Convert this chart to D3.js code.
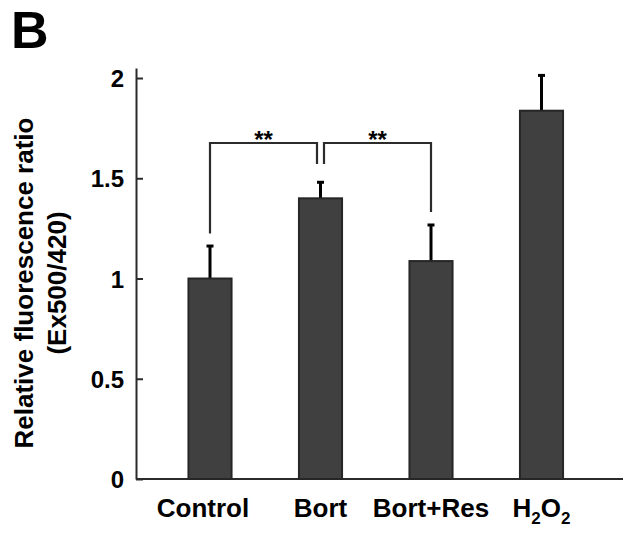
<!DOCTYPE html>
<html>
<head>
<meta charset="utf-8">
<script src="https://cdn.jsdelivr.net/npm/d3@7"></script>
<style>
  body { margin: 0; background: #fff; }
  text { font-family: "Liberation Sans", Arial, sans-serif; font-weight: bold; fill: #000; }
</style>
</head>
<body>
<div id="chart"></div>
<script>
const groups = ["Control", "Bort", "Bort+Res", "H2O2"];
const means = [1.0, 1.40, 1.087, 1.837];
const errors = [0.162, 0.08, 0.18, 0.176];
const yTicks = [0, 0.5, 1, 1.5, 2];
// significance brackets: from group, to group, top level, left foot, right foot
const brackets = [
  { from: "Control", to: "Bort", top: 1.676, footL: 1.225, footR: 1.571, label: "**", side: -1 },
  { from: "Bort", to: "Bort+Res", top: 1.676, footL: 1.571, footR: 1.332, label: "**", side: 1 }
];

const width = 627, height = 534;
const svg = d3.select("#chart").append("svg")
  .attr("width", width)
  .attr("height", height);

const x = d3.scaleBand()
  .domain(groups)
  .range([154.75, 596.75])
  .paddingInner(0.61)
  .paddingOuter(0.305);

const y = d3.scaleLinear()
  .domain([0, 2.05])
  .range([479, 68]);

const axisX = 136;
const cx = d => x(d) + x.bandwidth() / 2;

// panel letter
svg.append("text")
  .attr("x", 11)
  .attr("y", 48)
  .style("font-size", "52px")
  .text("B");

// y axis
svg.append("g")
  .attr("transform", `translate(${axisX},0)`)
  .call(d3.axisLeft(y).tickValues(yTicks).tickFormat(d => String(d))
    .tickSizeInner(-7).tickSizeOuter(0).tickPadding(12))
  .call(g => g.selectAll("path, line").attr("stroke", "#2b2b2b").attr("stroke-width", 2))
  .call(g => g.selectAll("text").style("font-size", "24px").attr("dy", "0.36em"));

// baseline
svg.append("line")
  .attr("x1", axisX).attr("x2", 623)
  .attr("y1", y(0)).attr("y2", y(0))
  .attr("stroke", "#2b2b2b").attr("stroke-width", 2);

// y label
const yl = svg.append("text")
  .attr("transform", `translate(0,${283}) rotate(-90)`)
  .style("text-anchor", "middle")
  .style("font-size", "26px");
yl.append("tspan").attr("x", 0).attr("y", 33).text("Relative fluorescence ratio");
yl.append("tspan").attr("x", 0).attr("y", 66).text("(Ex500/420)");

// error bars
groups.forEach((g, i) => {
  svg.append("line")
    .attr("x1", cx(g)).attr("x2", cx(g))
    .attr("y1", y(means[i])).attr("y2", y(means[i] + errors[i]))
    .attr("stroke", "#000").attr("stroke-width", 3);
  svg.append("line")
    .attr("x1", cx(g) - 3.5).attr("x2", cx(g) + 3.5)
    .attr("y1", y(means[i] + errors[i])).attr("y2", y(means[i] + errors[i]))
    .attr("stroke", "#000").attr("stroke-width", 3);
});

// bars
svg.selectAll("rect.bar")
  .data(groups)
  .enter()
  .append("rect")
  .attr("class", "bar")
  .attr("x", d => x(d))
  .attr("y", (d, i) => y(means[i]))
  .attr("width", x.bandwidth())
  .attr("height", (d, i) => y(0) - y(means[i]))
  .attr("fill", "#404040")
  .attr("stroke", "#262626")
  .attr("stroke-width", 2);

// significance brackets
brackets.forEach(b => {
  const x1 = cx(b.from) + (b.side > 0 ? 3.5 : 0);
  const x2 = cx(b.to) - (b.side < 0 ? 3.5 : 0);
  svg.append("path")
    .attr("d", `M${x1},${y(b.footL)}V${y(b.top)}H${x2}V${y(b.footR)}`)
    .attr("fill", "none")
    .attr("stroke", "#2b2b2b")
    .attr("stroke-width", 2.2);
  svg.append("text")
    .attr("x", (x1 + x2) / 2)
    .attr("y", y(b.top) + 5)
    .style("text-anchor", "middle")
    .style("font-size", "24px")
    .text(b.label);
});

// x labels
groups.forEach(g => {
  const t = svg.append("text")
    .attr("x", cx(g) + (g === "Control" ? -7 : 0))
    .attr("y", 517)
    .style("text-anchor", "middle")
    .style("font-size", "26px");
  if (g === "H2O2") {
    t.append("tspan").text("H");
    t.append("tspan").attr("dy", 7).style("font-size", "17px").text("2");
    t.append("tspan").attr("dy", -7).text("O");
    t.append("tspan").attr("dy", 7).style("font-size", "17px").text("2");
  } else {
    t.text(g);
  }
});
</script>
</body>
</html>
